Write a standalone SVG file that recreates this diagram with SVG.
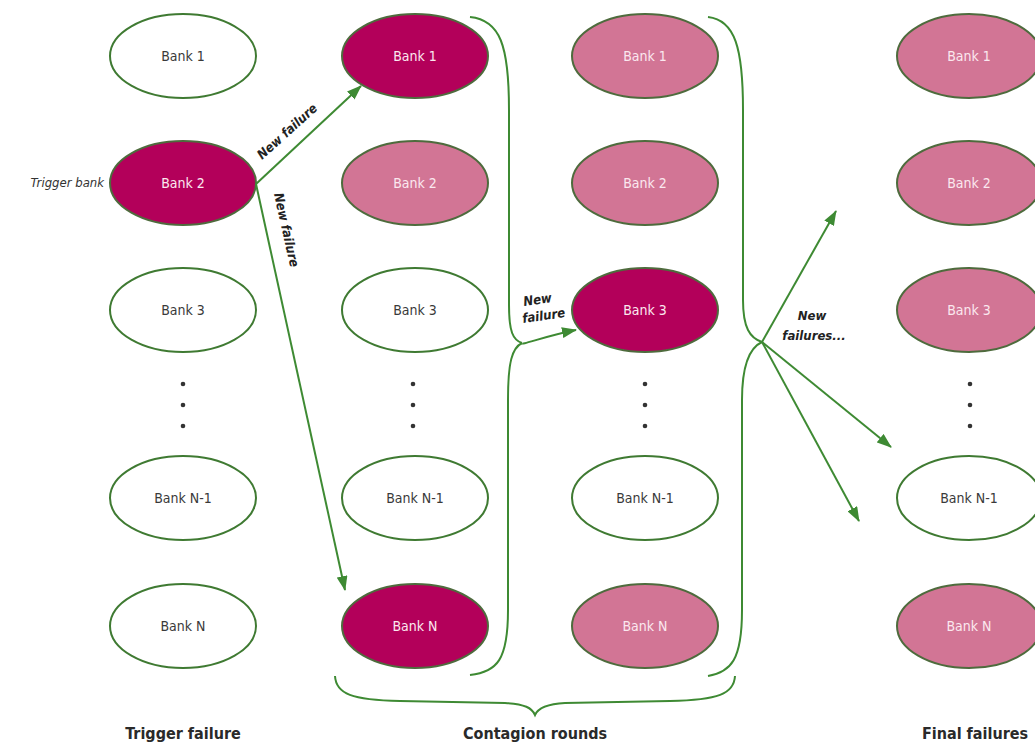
<svg xmlns="http://www.w3.org/2000/svg" width="1035" height="746" viewBox="0 0 1035 746">
<defs>
<style>
.w{fill:#fff;stroke:#3f7a32;stroke-width:2}
.d{fill:#b3005a;stroke:#4e6b3d;stroke-width:2}
.p{fill:#d27595;stroke:#4e6b3d;stroke-width:2}
.t{font-family:"DejaVu Sans Condensed","DejaVu Sans",sans-serif;font-size:14px;text-anchor:middle;dominant-baseline:central}
.tw{fill:#3a3a3a}
.tf{fill:#fbe8ef}
.ln{fill:none;stroke:#3e8a33;stroke-width:2}
.lb{font-family:"DejaVu Sans Condensed","DejaVu Sans",sans-serif;font-size:13px;font-weight:bold;font-style:italic;fill:#222}
.bt{font-family:"DejaVu Sans Condensed","DejaVu Sans",sans-serif;font-size:16px;font-weight:bold;fill:#2a2a2a;text-anchor:middle}
.dot{fill:#333}
</style>
<marker id="ah" viewBox="0 0 15 11" refX="14" refY="5.5" markerWidth="15" markerHeight="11" markerUnits="userSpaceOnUse" orient="auto">
<path d="M0,0 L15,5.5 L0,11 Z" fill="#3e8a33"/>
</marker>
</defs>

<g id="col1">
<g id="c1b1"><ellipse class="w" cx="183" cy="56" rx="73" ry="42"/><text class="t tw" x="183" y="56">Bank 1</text></g>
<g id="c1b2"><ellipse class="d" cx="183" cy="183" rx="73" ry="42"/><text class="t tf" x="183" y="183">Bank 2</text></g>
<g id="c1b3"><ellipse class="w" cx="183" cy="310" rx="73" ry="42"/><text class="t tw" x="183" y="310">Bank 3</text></g>
<g id="c1dots"><circle class="dot" cx="183" cy="384" r="2.3"/><circle class="dot" cx="183" cy="405" r="2.3"/><circle class="dot" cx="183" cy="426" r="2.3"/></g>
<g id="c1bn1"><ellipse class="w" cx="183" cy="498" rx="73" ry="42"/><text class="t tw" x="183" y="498">Bank N-1</text></g>
<g id="c1bn"><ellipse class="w" cx="183" cy="626" rx="73" ry="42"/><text class="t tw" x="183" y="626">Bank N</text></g>
</g>

<g id="col2">
<g id="c2b1"><ellipse class="d" cx="415" cy="56" rx="73" ry="42"/><text class="t tf" x="415" y="56">Bank 1</text></g>
<g id="c2b2"><ellipse class="p" cx="415" cy="183" rx="73" ry="42"/><text class="t tf" x="415" y="183">Bank 2</text></g>
<g id="c2b3"><ellipse class="w" cx="415" cy="310" rx="73" ry="42"/><text class="t tw" x="415" y="310">Bank 3</text></g>
<g id="c2dots"><circle class="dot" cx="413" cy="384" r="2.3"/><circle class="dot" cx="413" cy="405" r="2.3"/><circle class="dot" cx="413" cy="426" r="2.3"/></g>
<g id="c2bn1"><ellipse class="w" cx="415" cy="498" rx="73" ry="42"/><text class="t tw" x="415" y="498">Bank N-1</text></g>
<g id="c2bn"><ellipse class="d" cx="415" cy="626" rx="73" ry="42"/><text class="t tf" x="415" y="626">Bank N</text></g>
</g>

<g id="col3">
<g id="c3b1"><ellipse class="p" cx="645" cy="56" rx="73" ry="42"/><text class="t tf" x="645" y="56">Bank 1</text></g>
<g id="c3b2"><ellipse class="p" cx="645" cy="183" rx="73" ry="42"/><text class="t tf" x="645" y="183">Bank 2</text></g>
<g id="c3b3"><ellipse class="d" cx="645" cy="310" rx="73" ry="42"/><text class="t tf" x="645" y="310">Bank 3</text></g>
<g id="c3dots"><circle class="dot" cx="645" cy="384" r="2.3"/><circle class="dot" cx="645" cy="405" r="2.3"/><circle class="dot" cx="645" cy="426" r="2.3"/></g>
<g id="c3bn1"><ellipse class="w" cx="645" cy="498" rx="73" ry="42"/><text class="t tw" x="645" y="498">Bank N-1</text></g>
<g id="c3bn"><ellipse class="p" cx="645" cy="626" rx="73" ry="42"/><text class="t tf" x="645" y="626">Bank N</text></g>
</g>

<g id="col4">
<g id="c4b1"><ellipse class="p" cx="969" cy="56" rx="72" ry="42"/><text class="t tf" x="969" y="56">Bank 1</text></g>
<g id="c4b2"><ellipse class="p" cx="969" cy="183" rx="72" ry="42"/><text class="t tf" x="969" y="183">Bank 2</text></g>
<g id="c4b3"><ellipse class="p" cx="969" cy="310" rx="72" ry="42"/><text class="t tf" x="969" y="310">Bank 3</text></g>
<g id="c4dots"><circle class="dot" cx="970" cy="384" r="2.3"/><circle class="dot" cx="970" cy="405" r="2.3"/><circle class="dot" cx="970" cy="426" r="2.3"/></g>
<g id="c4bn1"><ellipse class="w" cx="969" cy="498" rx="72" ry="42"/><text class="t tw" x="969" y="498">Bank N-1</text></g>
<g id="c4bn"><ellipse class="p" cx="969" cy="626" rx="72" ry="42"/><text class="t tf" x="969" y="626">Bank N</text></g>
</g>

<g id="connectors">
<path class="ln" d="M256,184 L361,86" marker-end="url(#ah)"/>
<path class="ln" d="M256,184 L345,590" marker-end="url(#ah)"/>
<path class="ln" d="M470,17 C500,20 509,45 509,110 L509,305 C509,332 513,340 522,343"/>
<path class="ln" d="M522,343 C520,346 545,336 576,330" marker-end="url(#ah)"/>
<path class="ln" d="M522,343 C512,348 508,362 508,400 L508,610 C508,660 497,672 470,675"/>
<path class="ln" d="M708,17 C735,20 743,48 743,110 L743,300 C743,328 750,338 762,342"/>
<path class="ln" d="M762,342 C749,348 742,365 742,400 L742,610 C742,660 731,672 708,676"/>
<path class="ln" d="M762,342 L836,211" marker-end="url(#ah)"/>
<path class="ln" d="M762,342 L891,447" marker-end="url(#ah)"/>
<path class="ln" d="M762,342 L859,521" marker-end="url(#ah)"/>
<path class="ln" d="M335,676 C336,694 352,700 400,701 L505,703 C525,704 532,708 535,715 C538,708 546,704 565,703 L670,701 C718,700 734,694 735,676"/>
</g>

<g id="labels">
<text class="lb" transform="translate(262,160) rotate(-42)">New failure</text>
<text class="lb" transform="translate(274,194) rotate(77.5)">New failure</text>
<text class="lb" transform="translate(524,306) rotate(-8)">New</text>
<text class="lb" transform="translate(523,323) rotate(-8)">failure</text>
<text class="lb" x="812" y="320" text-anchor="middle">New</text>
<text class="lb" x="814" y="340" text-anchor="middle">failures...</text>
<text font-family="DejaVu Sans Condensed,DejaVu Sans,sans-serif" font-size="13" font-style="italic" fill="#333" x="104" y="187" text-anchor="end">Trigger bank</text>
<text class="bt" x="183" y="739">Trigger failure</text>
<text class="bt" x="535" y="739">Contagion rounds</text>
<text class="bt" x="975" y="739">Final failures</text>
</g>
</svg>
